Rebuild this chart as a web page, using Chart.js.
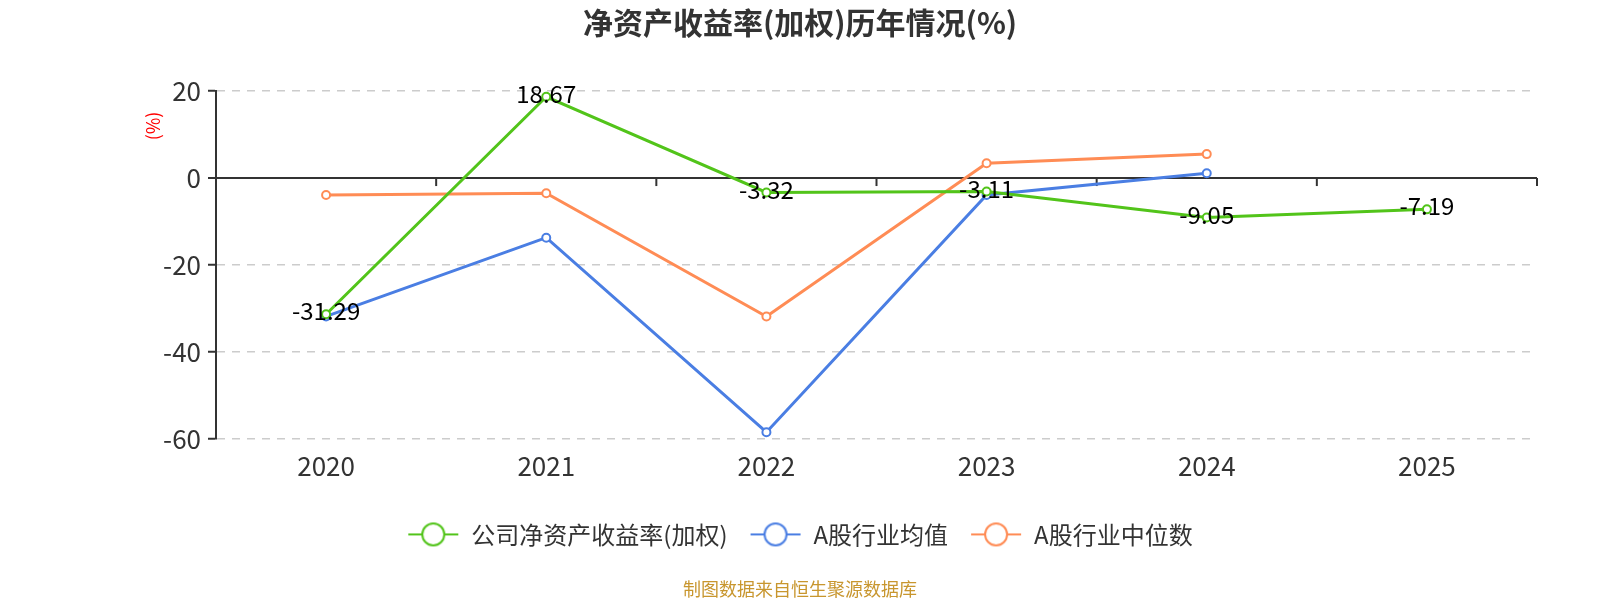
<!DOCTYPE html>
<html>
<head>
<meta charset="utf-8">
<script src="https://cdn.jsdelivr.net/npm/chart.js@4/dist/chart.umd.min.js"></script>
<style>
body { margin: 0; background: #fff; }
#wrap { width: 1600px; height: 600px; }
</style>
</head>
<body>
<div id="wrap"><canvas id="roeChart" width="1600" height="600"></canvas></div>
<script>
const years = ['2020', '2021', '2022', '2023', '2024', '2025'];
const companyRoe = [-31.29, 18.67, -3.32, -3.11, -9.05, -7.19];
const industryMean = [-31.8, -13.7, -58.4, -3.9, 1.1, null];
const industryMedian = [-3.9, -3.5, -31.8, 3.4, 5.5, null];
const yTickValues = [-60, -40, -20, 0, 20];
const seriesNames = ['公司净资产收益率(加权)', 'A股行业均值', 'A股行业中位数'];

const GREEN = '#52c41a', BLUE = '#4a7ee3', ORANGE = '#ff8c55';
const FONT = '"Noto Sans CJK SC", "Noto Sans", sans-serif';

// legend icon: short line with hollow circle
function legendIcon(color) {
    const c = document.createElement('canvas');
    c.width = 52; c.height = 28;
    const g = c.getContext('2d');
    g.strokeStyle = color;
    g.lineWidth = 2;
    g.beginPath(); g.moveTo(1, 14); g.lineTo(51, 14); g.stroke();
    g.beginPath(); g.arc(26, 14, 11, 0, Math.PI * 2);
    g.fillStyle = '#fff'; g.fill(); g.stroke();
    return c;
}

const extras = {
    id: 'extras',
    beforeDatasetsDraw(chart) {
        // small tick marks on the zero line between categories
        const { ctx, chartArea } = chart;
        const x = chart.scales.x, y = chart.scales.y;
        const y0 = y.getPixelForValue(0);
        ctx.save();
        ctx.strokeStyle = '#333';
        ctx.lineWidth = 2;
        for (let i = 0; i <= years.length; i++) {
            let px;
            if (i === 0) px = chartArea.left;
            else if (i === years.length) px = chartArea.right;
            else px = (x.getPixelForTick(i - 1) + x.getPixelForTick(i)) / 2;
            ctx.beginPath(); ctx.moveTo(px, y0); ctx.lineTo(px, y0 + 8); ctx.stroke();
        }
        ctx.restore();
    },
    afterDatasetsDraw(chart) {
        const { ctx, chartArea } = chart;
        ctx.save();
        // value labels on company series
        const meta = chart.getDatasetMeta(0);
        ctx.font = '24px ' + FONT;
        ctx.fillStyle = '#000';
        ctx.textAlign = 'center';
        ctx.textBaseline = 'middle';
        meta.data.forEach((pt, i) => {
            ctx.fillText(companyRoe[i].toFixed(2), pt.x, pt.y - 3);
        });
        // y axis unit
        ctx.translate(153, chartArea.top + 35);
        ctx.rotate(-Math.PI / 2);
        ctx.font = '18px ' + FONT;
        ctx.fillStyle = '#ff0000';
        ctx.fillText('(%)', 0, 0);
        ctx.restore();
    }
};

function lineSet(label, data, color) {
    return {
        label: label,
        data: data,
        borderColor: color,
        backgroundColor: '#fff',
        borderWidth: 3,
        pointRadius: 4,
        pointBorderWidth: 2,
        pointBackgroundColor: '#fff',
        pointBorderColor: color,
        pointStyle: 'circle',
        tension: 0,
        spanGaps: false,
        legendIcon: legendIcon(color)
    };
}

new Chart(document.getElementById('roeChart').getContext('2d'), {
    type: 'line',
    data: {
        labels: years,
        datasets: [
            lineSet(seriesNames[0], companyRoe, GREEN),
            lineSet(seriesNames[1], industryMean, BLUE),
            lineSet(seriesNames[2], industryMedian, ORANGE)
        ]
    },
    options: {
        responsive: false,
        animation: false,
        layout: { padding: 0 },
        plugins: {
            title: {
                display: true,
                text: '净资产收益率(加权)历年情况(%)',
                color: '#333',
                font: { family: FONT, size: 30, weight: 'bold' },
                padding: { top: 5, bottom: 50 }
            },
            subtitle: {
                display: true,
                position: 'bottom',
                text: '制图数据来自恒生聚源数据库',
                color: '#c8962e',
                font: { family: FONT, size: 18 },
                padding: { top: 22, bottom: 0 }
            },
            legend: {
                position: 'bottom',
                labels: {
                    usePointStyle: true,
                    pointStyleWidth: 52,
                    boxHeight: 28,
                    padding: 22,
                    color: '#333',
                    font: { family: FONT, size: 24 },
                    generateLabels(chart) {
                        return chart.data.datasets.map((ds, i) => ({
                            text: ds.label,
                            pointStyle: ds.legendIcon,
                            fillStyle: '#fff',
                            strokeStyle: ds.borderColor,
                            lineWidth: 0,
                            fontColor: '#333',
                            hidden: !chart.isDatasetVisible(i),
                            datasetIndex: i
                        }));
                    }
                }
            },
            tooltip: { enabled: false }
        },
        scales: {
            x: {
                offset: true,
                grid: { display: false, drawTicks: false },
                border: { display: false },
                afterFit(scale) { scale.height += 8; },
                ticks: { color: '#333', padding: 11, font: { family: FONT, size: 26 } }
            },
            y: {
                min: -60,
                max: 20,
                afterFit(scale) { scale.width = 216; },
                afterBuildTicks(scale) { scale.ticks = yTickValues.map(v => ({ value: v })); },
                border: {
                    display: true, color: '#333', width: 2,
                    dash: ctx => (ctx.tick && ctx.tick.value !== 0 ? [8, 7] : [])
                },
                grid: {
                    color: ctx => (ctx.tick && ctx.tick.value === 0 ? '#333' : '#ccc'),
                    lineWidth: ctx => (ctx.tick && ctx.tick.value === 0 ? 2 : 1.5),
                    tickColor: '#333',
                    tickLength: 8,
                    tickWidth: 2,
                    tickBorderDash: []
                },
                ticks: { color: '#333', padding: 7, font: { family: FONT, size: 26 } }
            },
            // empty right-side spacer so the plot ends where the reference does
            yr: {
                position: 'right',
                display: true,
                afterFit(scale) { scale.width = 63; },
                grid: { display: false, drawTicks: false },
                border: { display: false },
                ticks: { display: false }
            }
        }
    },
    plugins: [extras]
});
</script>
</body>
</html>
